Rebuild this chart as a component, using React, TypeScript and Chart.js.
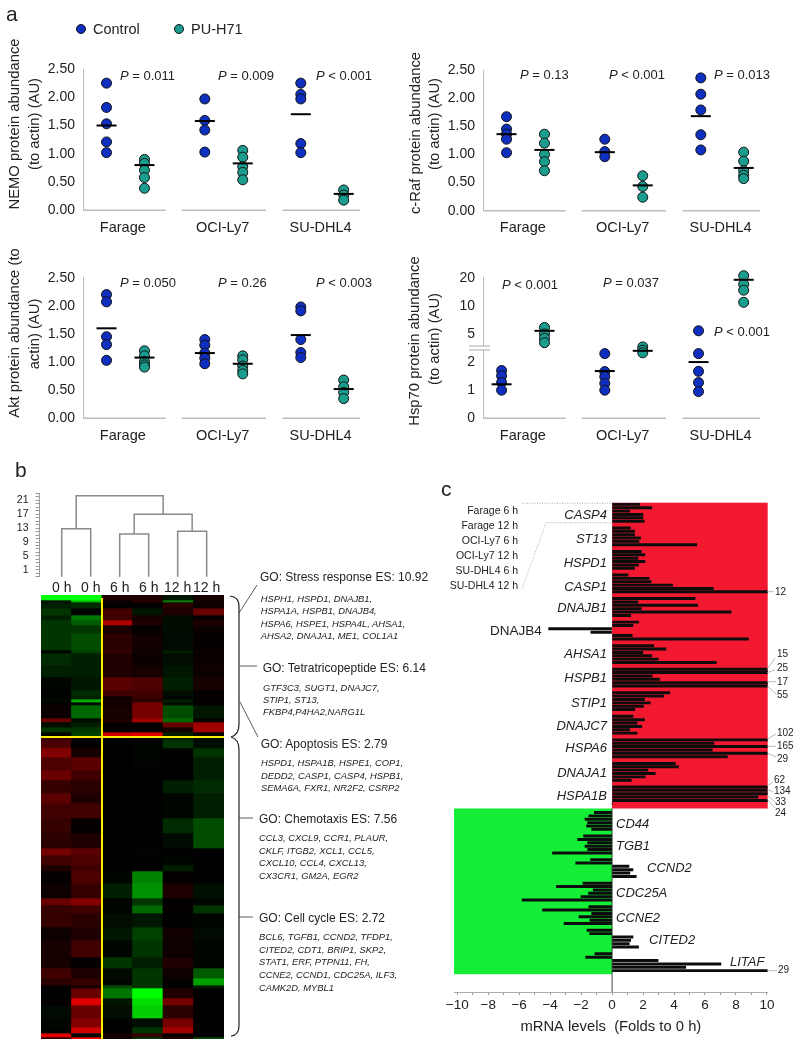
import React, { useEffect, useRef } from "react";
import { Chart, registerables } from "chart.js";

Chart.register(...registerables);
Chart.defaults.font.family = '"Liberation Sans", Arial, sans-serif';
Chart.defaults.color = "#222";

const FONT = '"Liberation Sans", Arial, sans-serif';
const BLUE = "#0f2fc0";
const TEAL = "#1a9c8e";
const AXIS_GRAY = "#bdbdbd";

// ---------- panel a ----------
const groupNames = ["Farage", "OCI-Ly7", "SU-DHL4"];
const slotX = [0.62, 1.62, 3.21, 4.21, 5.74, 6.87];
const hspSlotX = [0.49, 1.62, 3.21, 4.21, 5.68, 6.87];
const groupCentres = [1.05, 3.68, 6.26];
const baseSegments = [[0, 2.18], [2.6, 4.82], [5.26, 7.3]];

const nemoControl = [[2.25, 1.82, 1.53, 1.21, 1.02], [1.97, 1.59, 1.42, 1.03], [2.25, 2.05, 1.97, 1.18, 1.02]];
const nemoTreated = [[0.9, 0.83, 0.71, 0.58, 0.39], [1.06, 0.94, 0.77, 0.67, 0.54], [0.36, 0.27, 0.18]];
const nemoMeans = [1.5, 0.8, 1.58, 0.83, 1.7, 0.29];

const rafControl = [[1.67, 1.45, 1.36, 1.27, 1.03], [1.27, 1.05, 0.96], [2.36, 2.07, 1.79, 1.35, 1.08]];
const rafTreated = [[1.36, 1.2, 1.0, 0.87, 0.71], [0.62, 0.43, 0.24], [1.04, 0.88, 0.71, 0.63, 0.57]];
const rafMeans = [1.36, 1.08, 1.04, 0.45, 1.68, 0.76];

const aktControl = [[2.2, 2.07, 1.45, 1.31, 1.03], [1.4, 1.3, 1.16, 1.07, 0.97], [1.98, 1.91, 1.4, 1.17, 1.08]];
const aktTreated = [[1.2, 1.11, 1.01, 0.95, 0.91], [1.11, 1.04, 0.93, 0.85, 0.79], [0.68, 0.56, 0.46, 0.35]];
const aktMeans = [1.6, 1.08, 1.16, 0.97, 1.48, 0.52];

const hspControl = [[1.7, 1.51, 1.27, 1.0], [2.3, 1.66, 1.48, 1.24, 1.0], [5.4, 2.3, 1.67, 1.27, 0.95]];
const hspTreated = [[5.87, 5.0, 4.48, 4.03], [2.54, 2.42, 2.33], [21, 17, 14.7, 10.9]];
const hspMeans = [1.21, 5.4, 1.68, 2.4, 2.0, 19];
const hspTickLabels = ["0", "1", "2", "5", "10", "20"];
// axis is linear below the break and doubling above it
const hspAxis = (v: number) => (v <= 2.6 ? v : 3 + Math.log2(v / 5));

const pNemo: [string, string, number, number][] = [["=", "0.011", 120, 75], ["=", "0.009", 218, 75], ["<", "0.001", 316, 75]];
const pRaf: [string, string, number, number][] = [["=", "0.13", 520, 74], ["<", "0.001", 609, 74], ["=", "0.013", 714, 74]];
const pAkt: [string, string, number, number][] = [["=", "0.050", 120, 282], ["=", "0.26", 218, 282], ["<", "0.003", 316, 282]];
const pHsp: [string, string, number, number][] = [["<", "0.001", 502, 284], ["=", "0.037", 603, 282], ["<", "0.001", 714, 331]];

// ---------- panel b ----------
const leafLabels = ["0 h", "0 h", "6 h", "6 h", "12 h", "12 h"];
const dendroTicks = [1, 5, 9, 13, 17, 21];
const mergeLeft = [0, 2, 4, 2.5, 0.5];
const mergeRight = [1, 3, 5, 4.5, 3.5];
const mergeTop = [12.8, 11.3, 12.1, 17, 22.3];
const mergeLeftBase = [-1, -1, -1, 11.3, 12.8];
const mergeRightBase = [-1, -1, -1, 12.1, 17];

// band height, then expression in each of the six columns (red +, green -)
const heatBands = [
  [5, -1, -1, 0.2, 0.2, -0.15, 0.15], [2, -0.1, -0.8, 0.1, 0.25, -0.6, 0.1], [6, -0.2, -0.25, 0.02, 0.05, 0.25, 0.1],
  [7, -0.3, -0.02, 0.35, -0.15, 0.2, 0.5], [5, -0.2, -0.55, 0.35, 0.15, -0.1, 0.05], [5, -0.3, -0.45, 0.75, 0.2, -0.1, 0.2],
  [8, -0.3, -0.3, 0.15, 0.05, -0.1, 0.1], [17, -0.3, -0.4, 0.25, 0.12, -0.08, 0.05], [3, -0.05, -0.35, 0.3, 0.1, -0.2, 0.08],
  [12, -0.25, -0.2, 0.2, 0.08, -0.1, 0.08], [12, -0.2, -0.2, 0.2, 0.15, -0.15, 0.1], [13, -0.05, -0.15, 0.45, 0.4, -0.2, 0.15],
  [6, -0.02, -0.25, 0.35, 0.35, -0.1, 0.05], [3, -0.03, -0.2, 0.1, 0.3, -0.05, 0.05], [3, -0.08, -0.75, 0.15, 0.25, -0.2, 0.05],
  [3, 0.05, -0.1, 0.1, 0.55, -0.1, 0.02], [13, 0.08, -0.5, 0.15, 0.55, -0.4, -0.15], [4, 0.5, -0.1, 0.2, 0.7, -0.5, 0.05],
  [5, -0.1, -0.2, 0.05, 0.05, 0.5, 0.7], [5, -0.3, -0.3, 0.05, 0.03, 0.15, 0.7], [4, -0.05, -0.35, 0.85, 0.9, -0.2, -0.05],
  [4, 0.3, 0.05, 0.02, -0.05, -0.2, -0.1], [8, 0.4, 0.05, 0.02, -0.03, -0.3, -0.1], [9, 0.6, 0.15, 0, -0.05, 0.02, -0.3],
  [13, 0.4, 0.45, 0, -0.03, 0.02, -0.2], [10, 0.5, 0.35, 0, -0.01, 0, -0.2], [13, 0.3, 0.25, 0, 0, -0.2, -0.25],
  [10, 0.45, 0.2, 0, 0, -0.05, -0.2], [15, 0.35, 0.35, 0, 0, -0.05, -0.2], [15, 0.3, 0.05, 0, -0.02, -0.25, -0.4],
  [15, 0.25, 0.2, 0, 0, -0.08, -0.4], [7, 0.55, 0.45, 0, -0.03, 0, 0], [10, 0.35, 0.4, 0.02, 0, -0.05, 0],
  [6, 0.2, 0.35, 0, 0, -0.2, -0.02], [12, 0.05, 0.4, -0.05, -0.6, 0.05, 0.02], [15, 0.1, 0.3, -0.2, -0.65, 0.2, -0.12],
  [7, 0.5, 0.6, -0.03, -0.3, 0.02, -0.05], [8, 0.3, 0.35, -0.05, -0.5, 0.05, -0.3], [14, 0.3, 0.25, -0.1, -0.15, 0, -0.05],
  [13, 0.1, 0.2, -0.15, -0.35, 0.12, -0.08], [17, 0.15, 0.35, -0.05, -0.3, 0.1, -0.05], [11, 0.15, 0.05, -0.3, -0.2, 0.2, -0.05],
  [10, 0.35, 0.2, -0.08, -0.3, 0.1, -0.45], [7, 0.25, 0.3, -0.05, -0.3, 0.05, -0.7], [3, 0.02, 0.15, -0.4, -0.3, -0.02, -0.2],
  [10, 0.02, 0.5, -0.55, -1, 0.2, 0], [7, 0.02, 0.9, -0.15, -0.9, 0.55, 0], [13, -0.08, 0.5, -0.1, -0.85, 0.25, 0.03],
  [9, -0.05, 0.6, -0.02, -0.1, 0.55, 0.02], [6, -0.02, 0.85, 0.02, -0.3, 0.7, 0], [4, 0.9, -0.1, 0.15, 0.3, 0.05, 0],
  [2, 0.3, 1, 0.1, -0.3, 0.2, -0.4],
];

const goBlocks: { title: string; x: number; y: number; genes: string[]; gx: number; gy: number[] }[] = [
  { title: "GO: Stress response ES: 10.92", x: 260, y: 577, gx: 260.7, gy: [599, 611, 623.5, 636],
    genes: ["HSPH1, HSPD1, DNAJB1,", "HSPA1A, HSPB1, DNAJB4,", "HSPA6, HSPE1, HSPA4L, AHSA1,", "AHSA2, DNAJA1, ME1, COL1A1"] },
  { title: "GO: Tetratricopeptide ES: 6.14", x: 262.7, y: 668, gx: 263, gy: [688, 700, 712],
    genes: ["GTF3C3, SUGT1, DNAJC7,", "STIP1, ST13,", "FKBP4,P4HA2,NARG1L"] },
  { title: "GO: Apoptosis ES: 2.79", x: 260.7, y: 744, gx: 261, gy: [763, 776, 788],
    genes: ["HSPD1, HSPA1B, HSPE1, COP1,", "DEDD2, CASP1, CASP4, HSPB1,", "SEMA6A, FXR1, NR2F2, CSRP2"] },
  { title: "GO: Chemotaxis ES: 7.56", x: 259, y: 819, gx: 259, gy: [838, 851, 863, 876],
    genes: ["CCL3, CXCL9, CCR1, PLAUR,", "CKLF, ITGB2, XCL1, CCL5,", "CXCL10, CCL4, CXCL13,", "CX3CR1, GM2A, EGR2"] },
  { title: "GO: Cell cycle ES: 2.72", x: 259, y: 918, gx: 259, gy: [937, 950, 962, 975, 988],
    genes: ["BCL6, TGFB1, CCND2, TFDP1,", "CITED2, CDT1, BRIP1, SKP2,", "STAT1, ERF, PTPN11, FH,", "CCNE2, CCND1, CDC25A, ILF3,", "CAMK2D, MYBL1"] },
];

// ---------- panel c ----------
const upGenes = ["CASP4", "ST13", "HSPD1", "CASP1", "DNAJB1", "DNAJB4", "AHSA1", "HSPB1", "STIP1", "DNAJC7", "HSPA6", "DNAJA1", "HSPA1B"];
const downGenes = ["CD44", "TGB1", "CCND2", "CDC25A", "CCNE2", "CITED2", "LITAF"];
const upFolds = [
  [1.79, 2.56, 1.13, 1.99, 1.99, 2.07],
  [1.18, 1.45, 1.45, 1.84, 1.73, 5.47],
  [1.88, 2.12, 1.67, 2.12, 1.71, 1.45],
  [1.03, 2.39, 2.52, 3.91, 6.54, 12],
  [5.36, 1.67, 5.53, 1.88, 7.69, 1.2],
  [1.71, 1.35, -4.1, -1.37, 1.3, 8.8],
  [2.69, 3.48, 1.99, 2.56, 2.99, 6.73],
  [15, 25, 2.59, 3.06, 17, 55],
  [3.72, 3.33, 2.09, 2.46, 2.03, 1.47],
  [1.35, 2.09, 1.62, 1.92, 1.13, 1.62],
  [102, 6.58, 165, 6.47, 29, 7.44],
  [4.08, 4.29, 2.31, 2.78, 2.14, 1.24],
  [62, 134, 33, 9.42, 24, 0],
];
const downFolds = [
  [-1.15, -1.5, -1.75, -1.58, -1.65, -1.32],
  [-1.84, -2.22, -1.58, -1.75, -1.58, -3.85],
  [-1.39, -2.35, 1.09, 1.35, 1.15, 1.56],
  [-1.88, -3.59, -1.22, -1.52, -2.01, -5.81],
  [-1.5, -4.49, -1.32, -2.14, -1.43, -3.1],
  [-1.62, -1.45, 1.35, 1.2, 1.11, 1.71],
  [-1.11, -1.71, 2.97, 7.03, 4.76, 29],
];
const sampleLabels = ["Farage 6 h", "Farage 12 h", "OCI-Ly7 6 h", "OCI-Ly7 12 h", "SU-DHL4 6 h", "SU-DHL4 12 h"];
const sampleY = [510, 525, 540, 555, 570, 585];
const upLabelY = [514, 538, 562, 586, 607, 631, 653, 677, 702, 725, 747, 772, 795];
const downLabelPos: [number, number][] = [[616, 823], [616, 845], [647, 867], [616, 892], [616, 917], [649, 939], [730, 961]];
const overflowLabels: [string, number, number][] = [
  ["12", 775, 591.5], ["15", 777, 654], ["25", 777, 668], ["17", 777, 682], ["55", 777, 695], ["102", 777, 733],
  ["165", 777, 746], ["29", 777, 759], ["62", 774, 780], ["134", 774, 791], ["33", 775, 802], ["24", 775, 813], ["29", 778, 970],
];
const leaderLines = [
  "M767 591.7H774", "M767 669.3L775 658", "M767 672.7L775 670", "M767 681.7H776", "M767 686L776 694", "M767 739.3L776 734",
  "M767 746.3H776", "M767 753L776 757", "M767 786L773 782", "M767 790L773 791.5", "M767 795L775 802", "M767 799.3L775 808", "M767 970.7H777",
];

// ---------- helpers ----------
const T = ({ x, y, size, italic, right, center, color, children }: any) => (
  <div style={{
    position: "absolute", left: x, top: y, fontFamily: FONT, fontSize: size, fontStyle: italic ? "italic" : "normal",
    lineHeight: 1, whiteSpace: "pre", color: color || "#222",
    transform: `translate(${right ? "-100%" : center ? "-50%" : "0"},-50%)`,
  }}>{children}</div>
);

const RotT = ({ x, y, size, children }: any) => (
  <div style={{
    position: "absolute", left: x, top: y, fontFamily: FONT, fontSize: size, lineHeight: 1, whiteSpace: "pre", color: "#222",
    transform: "translate(-50%,-50%) rotate(-90deg)",
  }}>{children}</div>
);

function ChartCanvas({ left, top, w, h, make, bg }: any) {
  const ref = useRef<HTMLCanvasElement>(null);
  useEffect(() => {
    const c = new Chart(ref.current as HTMLCanvasElement, make());
    return () => c.destroy();
  }, []);
  return <canvas ref={ref} width={w} height={h} style={{ position: "absolute", left, top, width: w, height: h, display: "block", background: bg }} />;
}

const baselinePlugin = {
  id: "baseline",
  beforeDatasetsDraw(chart: any) {
    const { ctx, scales } = chart;
    ctx.save();
    ctx.strokeStyle = AXIS_GRAY;
    ctx.lineWidth = 1.5;
    for (const [a, b] of baseSegments) {
      ctx.beginPath();
      ctx.moveTo(scales.x.getPixelForValue(a), chart.chartArea.bottom);
      ctx.lineTo(scales.x.getPixelForValue(b), chart.chartArea.bottom);
      ctx.stroke();
    }
    ctx.restore();
  },
};

const breakPlugin = {
  id: "axisBreak",
  afterDraw(chart: any) {
    const { ctx, scales } = chart;
    const y1 = scales.y.getPixelForValue(2.57);
    const y2 = scales.y.getPixelForValue(2.43);
    const x = chart.chartArea.left;
    ctx.save();
    ctx.fillStyle = "#fff";
    ctx.fillRect(x - 2, y1, 4, y2 - y1);
    ctx.strokeStyle = "#aaa";
    ctx.lineWidth = 1;
    for (const y of [y1, y2]) {
      ctx.beginPath();
      ctx.moveTo(x - 14, y);
      ctx.lineTo(x + 7, y);
      ctx.stroke();
    }
    ctx.restore();
  },
};

function scatterConfig(o: any) {
  const map = o.map || ((v: number) => v);
  const slots = o.slots || slotX;
  const pts = (groups: number[][], off: number) =>
    groups.flatMap((vals, g) => vals.map((v) => ({ x: slots[g * 2 + off], y: map(v) })));
  return {
    type: "scatter",
    data: {
      datasets: [
        { label: "Mean", data: o.means.map((v: number, i: number) => ({ x: slots[i], y: map(v) })), pointStyle: "line", pointRadius: 10, pointBorderWidth: 2, pointBorderColor: "#000", pointBackgroundColor: "#000", order: 0, clip: false },
        { label: "Control", data: pts(o.control, 0), pointRadius: 5, pointBackgroundColor: BLUE, pointBorderColor: "#111", pointBorderWidth: 1, order: 1, clip: false },
        { label: "PU-H71", data: pts(o.treated, 1), pointRadius: 5, pointBackgroundColor: TEAL, pointBorderColor: "#111", pointBorderWidth: 1, order: 2, clip: false },
      ],
    },
    plugins: o.plugins || [baselinePlugin],
    options: {
      animation: false, responsive: false,
      layout: { padding: { top: o.top, right: 40, left: 0, bottom: 0 } },
      plugins: { legend: { display: false }, tooltip: { enabled: false } },
      scales: {
        x: {
          type: "linear", min: 0, max: 7.3, border: { display: false }, grid: { display: false, drawTicks: false },
          afterBuildTicks: (s: any) => { s.ticks = groupCentres.map((value) => ({ value })); },
          afterFit: (s: any) => { s.height = o.xh; },
          ticks: { autoSkip: false, maxRotation: 0, padding: 9, font: { size: 14.5 }, callback: (_: any, i: number) => groupNames[i] },
        },
        y: {
          type: "linear", min: 0, max: o.max ?? 2.5,
          border: { display: true, color: AXIS_GRAY, width: 1 }, grid: { display: false, drawTicks: false },
          afterFit: (s: any) => { s.width = 83; },
          ticks: { stepSize: o.step ?? 0.5, padding: 8, font: { size: 14 }, callback: o.tick || ((v: number) => v.toFixed(2)) },
        },
      },
    },
  };
}

// printed tones of the heat map sit darker than a straight ramp
const shade = (v: number) => {
  const k = Math.round(255 * Math.pow(Math.abs(v), 1.3));
  return v >= 0 ? `rgb(${k},0,0)` : `rgb(0,${k},0)`;
};

function heatConfig() {
  return {
    type: "bar",
    data: {
      labels: leafLabels,
      datasets: heatBands.map((b) => ({
        data: leafLabels.map(() => b[0]),
        backgroundColor: b.slice(1).map(shade),
        borderWidth: 0, categoryPercentage: 1, barPercentage: 1, stack: "s",
      })),
    },
    plugins: [{
      id: "divide",
      afterDatasetsDraw(chart: any) {
        const { ctx, chartArea: a, scales } = chart;
        const x = a.left + ((a.right - a.left) * 2) / leafLabels.length;
        const y = scales.y.getPixelForValue(142);
        ctx.save();
        ctx.strokeStyle = "#ffee00";
        ctx.lineWidth = 2;
        ctx.beginPath();
        ctx.moveTo(x, a.top + 3);
        ctx.lineTo(x, a.bottom);
        ctx.moveTo(a.left, y);
        ctx.lineTo(a.right, y);
        ctx.stroke();
        ctx.restore();
      },
    }],
    options: {
      animation: false, responsive: false,
      layout: { padding: 0 },
      plugins: { legend: { display: false }, tooltip: { enabled: false } },
      scales: {
        x: { display: false, stacked: true },
        y: { display: false, stacked: true, reverse: true, min: 0, max: 444 },
      },
    },
  };
}

function dendroConfig() {
  const paths = mergeLeft.map((l, i) => [
    { x: l, y: mergeLeftBase[i] }, { x: l, y: mergeTop[i] }, { x: mergeRight[i], y: mergeTop[i] }, { x: mergeRight[i], y: mergeRightBase[i] },
  ]);
  const yTicks: number[] = [];
  for (let v = -1; v <= 23; v++) yTicks.push(v);
  return {
    type: "line",
    data: { datasets: paths.map((data) => ({ data, borderColor: "#8a8a8a", borderWidth: 1.5, pointRadius: 0, tension: 0, fill: false, clip: false })) },
    options: {
      animation: false, responsive: false,
      layout: { padding: { top: 3.2, left: 0, right: 20, bottom: 0 } },
      plugins: { legend: { display: false }, tooltip: { enabled: false } },
      scales: {
        x: {
          type: "linear", min: -0.766, max: 5.46, border: { display: false }, grid: { display: false, drawTicks: false },
          afterBuildTicks: (s: any) => { s.ticks = leafLabels.map((_, value) => ({ value })); },
          afterFit: (s: any) => { s.height = 18.2; },
          ticks: { autoSkip: false, maxRotation: 0, padding: 3, font: { size: 14 }, callback: (_: any, i: number) => leafLabels[i] },
        },
        y: {
          type: "linear", min: -1, max: 23,
          border: { display: true, color: "#999" },
          grid: { drawOnChartArea: false, drawTicks: true, tickLength: 4, tickColor: "#999" },
          afterBuildTicks: (s: any) => { s.ticks = yTicks.map((value) => ({ value })); },
          afterFit: (s: any) => { s.width = 39.5; },
          ticks: { autoSkip: false, padding: 7, font: { size: 10.5 }, callback: (v: number) => (dendroTicks.includes(v) ? String(v) : "") },
        },
      },
    },
  };
}

function foldConfig() {
  const bars = [
    ...upFolds.flatMap((row, g) => row.map((x, i) => ({ x, y: g * 7 + i }))),
    ...downFolds.flatMap((row, g) => row.map((x, i) => ({ x, y: (upGenes.length + g) * 7 + i + 0.6 }))),
  ];
  const xTicks: number[] = [];
  for (let v = -10; v <= 10; v++) xTicks.push(v);
  return {
    type: "bar",
    data: { datasets: [{ data: bars, backgroundColor: "#0c0c0c", barThickness: 2.3, borderWidth: 0 }] },
    plugins: [{
      id: "fields",
      beforeDatasetsDraw(chart: any) {
        const { ctx, scales: { x, y } } = chart;
        const rect = (x0: number, x1: number, y0: number, y1: number, c: string) => {
          ctx.fillStyle = c;
          ctx.fillRect(x.getPixelForValue(x0), y.getPixelForValue(y0), x.getPixelForValue(x1) - x.getPixelForValue(x0), y.getPixelForValue(y1) - y.getPixelForValue(y0));
        };
        ctx.save();
        rect(0, 10.05, -0.5, 90.4, "#f2182f");
        rect(-10.21, 0, 90.4, 139.65, "#14ee36");
        ctx.strokeStyle = "#444";
        ctx.lineWidth = 1;
        ctx.beginPath();
        ctx.moveTo(x.getPixelForValue(0), y.getPixelForValue(90.4));
        ctx.lineTo(x.getPixelForValue(0), chart.chartArea.bottom);
        ctx.stroke();
        ctx.restore();
      },
    }],
    options: {
      indexAxis: "y", animation: false, responsive: false,
      layout: { padding: { top: 7.7, left: 14, right: 32.3, bottom: 0 } },
      plugins: { legend: { display: false }, tooltip: { enabled: false } },
      scales: {
        y: { type: "linear", display: false, reverse: true, offset: false, min: -0.5, max: 144.95 },
        x: {
          type: "linear", min: -10.21, max: 10.05,
          border: { display: true, color: "#aaa" },
          grid: { drawOnChartArea: false, drawTicks: true, tickLength: 3, tickColor: "#999" },
          afterBuildTicks: (s: any) => { s.ticks = xTicks.map((value) => ({ value })); },
          afterFit: (s: any) => { s.height = 48; },
          ticks: {
            autoSkip: false, maxRotation: 0, padding: 2, font: { size: 13.5 },
            callback: (v: number) => (v % 2 === 0 ? String(v).replace("-", "\u2212") : ""),
          },
          title: { display: true, text: "mRNA levels  (Folds to 0 h)", font: { size: 14.8 }, padding: { top: 0, bottom: 4 } },
        },
      },
    },
  };
}

const PVals = ({ list }: { list: [string, string, number, number][] }) => (
  <>
    {list.map(([op, val, x, y], i) => (
      <T key={i} x={x} y={y} size={13}><i>P</i>{` ${op} ${val}`}</T>
    ))}
  </>
);

const LegendDot = ({ x, y, c }: any) => (
  <div style={{ position: "absolute", left: x - 5.2, top: y - 5.2, width: 8.4, height: 8.4, borderRadius: "50%", background: c, border: "1px solid #111" }} />
);

export default function App() {
  return (
    <div style={{ position: "absolute", left: 0, top: 0, width: 800, height: 1048, overflow: "hidden", background: "#fff" }}>
      {/* panel a */}
      <ChartCanvas left={0} top={0} w={400} h={240} make={() => scatterConfig({ control: nemoControl, treated: nemoTreated, means: nemoMeans, top: 69, xh: 29.7 })} />
      <ChartCanvas left={400} top={0} w={400} h={240} make={() => scatterConfig({ control: rafControl, treated: rafTreated, means: rafMeans, top: 70, xh: 29.3 })} />
      <ChartCanvas left={0} top={240} w={400} h={210} make={() => scatterConfig({ control: aktControl, treated: aktTreated, means: aktMeans, top: 37.7, xh: 31.7 })} />
      <ChartCanvas left={400} top={240} w={400} h={210} make={() => scatterConfig({
        control: hspControl, treated: hspTreated, means: hspMeans, top: 37.7, xh: 31.7, map: hspAxis, slots: hspSlotX,
        max: 5, step: 1, tick: (v: number) => hspTickLabels[v], plugins: [baselinePlugin, breakPlugin],
      })} />

      {/* panel b */}
      <ChartCanvas left={0} top={480} w={240} h={115} make={dendroConfig} />
      <ChartCanvas left={41} top={595} w={183} h={444} make={heatConfig} bg="#000" />

      {/* panel c */}
      <ChartCanvas left={440} top={495} w={360} h={545} make={foldConfig} />

      <svg width={800} height={1048} style={{ position: "absolute", left: 0, top: 0, pointerEvents: "none" }}>
        <path d="M230 596Q239 597 239 606V724Q239 735 231 737Q239 739 239 750V1026Q239 1035 231 1036" fill="none" stroke="#222" strokeWidth={1.2} />
        <path d="M239 613L257 585M240 666H257M240 702L258 737M239 818H253M239 917H253" fill="none" stroke="#333" strokeWidth={0.8} />
        <path d={leaderLines.join("")} fill="none" stroke="#aaa" strokeWidth={0.8} />
        <path d="M522 503.3H611M611 522.7H546L522 589" fill="none" stroke="#999" strokeWidth={0.8} strokeDasharray="1 1.5" />
      </svg>

      <T x={6} y={13} size={21}>a</T>
      <T x={15} y={469} size={21}>b</T>
      <T x={441} y={488} size={21}>c</T>

      <LegendDot x={81} y={29} c={BLUE} />
      <T x={93} y={29} size={14.5}>Control</T>
      <LegendDot x={179} y={29} c={TEAL} />
      <T x={191} y={29} size={14.5}>PU-H71</T>

      <RotT x={14} y={124} size={14.8}>NEMO protein abundance</RotT>
      <RotT x={34} y={124} size={14.8}>(to actin) (AU)</RotT>
      <RotT x={415} y={133} size={14.8}>c-Raf protein abundance</RotT>
      <RotT x={434} y={124} size={14.8}>(to actin) (AU)</RotT>
      <RotT x={14} y={333} size={14.8}>Akt protein abundance (to</RotT>
      <RotT x={34} y={334} size={14.8}>actin) (AU)</RotT>
      <RotT x={414} y={341} size={14.8}>Hsp70 protein abundance</RotT>
      <RotT x={434} y={339} size={14.8}>(to actin) (AU)</RotT>

      <PVals list={pNemo} />
      <PVals list={pRaf} />
      <PVals list={pAkt} />
      <PVals list={pHsp} />

      {goBlocks.map((b, i) => (
        <React.Fragment key={i}>
          <T x={b.x} y={b.y} size={12}>{b.title}</T>
          {b.genes.map((g, j) => <T key={j} x={b.gx} y={b.gy[j]} size={9.4} italic>{g}</T>)}
        </React.Fragment>
      ))}

      {sampleLabels.map((s, i) => <T key={i} x={518} y={sampleY[i]} size={10.5} right>{s}</T>)}
      {upGenes.map((g, i) =>
        g === "DNAJB4"
          ? <T key={i} x={490} y={upLabelY[i]} size={13.5}>{g}</T>
          : <T key={i} x={607} y={upLabelY[i]} size={13} italic right>{g}</T>
      )}
      {downGenes.map((g, i) => <T key={i} x={downLabelPos[i][0]} y={downLabelPos[i][1]} size={13} italic>{g}</T>)}
      {overflowLabels.map(([s, x, y], i) => <T key={i} x={x} y={y} size={10}>{s}</T>)}
    </div>
  );
}
